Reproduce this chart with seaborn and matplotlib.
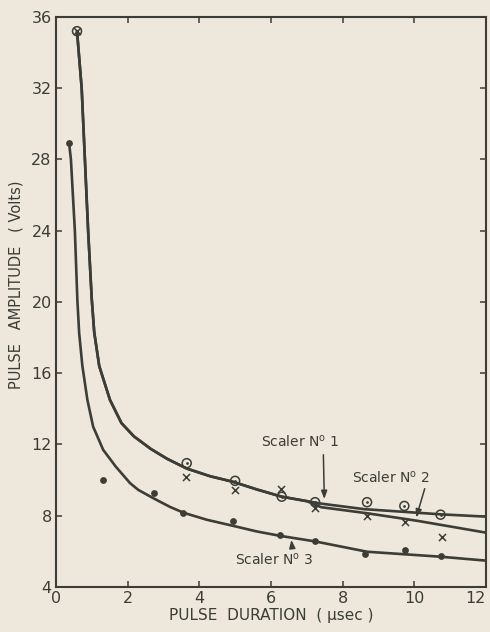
import pandas as pd
import matplotlib.pyplot as plt
import seaborn as sns

# measured points
s1_x = [0.59, 3.65, 5.0, 6.30, 7.23, 8.68, 9.72, 10.73]
s1_y = [35.2, 10.95, 9.96, 9.07, 8.76, 8.76, 8.55, 8.06]
s2_x = [0.59, 3.62, 5.0, 6.28, 7.22, 8.68, 9.75, 10.77]
s2_y = [35.2, 10.16, 9.45, 9.49, 8.42, 7.99, 7.67, 6.83]
s3_x = [0.37, 1.31, 2.74, 3.54, 4.93, 6.26, 7.22, 8.63, 9.75, 10.73]
s3_y = [28.9, 10.0, 9.28, 8.17, 7.71, 6.92, 6.60, 5.85, 6.08, 5.74]

# fitted curves (scaler 1 and 2 share the curve up to ~7 usec)
head_x = [0.59, 0.72, 0.81, 0.90, 1.0, 1.07, 1.21, 1.51, 1.83, 2.18, 2.65, 3.10, 3.65, 4.30,
          4.95, 5.6, 6.30, 7.0]
head_y = [35.2, 32.0, 28.0, 24.0, 20.2, 18.3, 16.4, 14.5, 13.2, 12.45, 11.75, 11.2, 10.65, 10.22,
          9.9, 9.48, 9.07, 8.82]
c1_x = head_x + [7.4, 8.6, 10.73, 12.0]
c1_y = head_y + [8.68, 8.37, 8.08, 7.95]
c2_x = head_x + [7.4, 8.68, 10.07, 12.0]
c2_y = head_y + [8.48, 8.14, 7.72, 7.05]
c3_x = [0.37, 0.42, 0.53, 0.60, 0.65, 0.74, 0.88, 1.04, 1.32, 1.67, 2.07, 2.30, 2.77, 3.18, 3.56,
        4.2, 4.95, 5.6, 6.26, 7.23, 8.68, 10.73, 12.0]
c3_y = [28.9, 28.0, 24.0, 20.1, 18.25, 16.4, 14.5, 13.0, 11.7, 10.76, 9.83, 9.45, 8.93, 8.5, 8.17,
        7.78, 7.43, 7.12, 6.87, 6.56, 5.98, 5.70, 5.48]

x_ticks = [0, 2, 4, 6, 8, 10, 12]
y_ticks = [4, 8, 12, 16, 20, 24, 28, 32, 36]

paper = "#ede8db"
ink = "#3b3d36"

sns.set_theme(style="ticks", rc={"axes.facecolor": paper, "figure.facecolor": paper,
                                 "axes.edgecolor": ink, "xtick.color": ink, "ytick.color": ink,
                                 "text.color": ink, "axes.labelcolor": ink})
plt.rcParams["font.family"] = ["DejaVu Sans"]

fig = plt.figure(figsize=(4.9, 6.32), dpi=100)
ax = fig.add_axes([0.114, 0.0712, 0.878, 0.902])

for cx, cy in [(c1_x, c1_y), (c2_x, c2_y), (c3_x, c3_y)]:
    sns.lineplot(x=cx, y=cy, ax=ax, color=ink, linewidth=1.9, sort=False)

sns.scatterplot(x=s1_x, y=s1_y, ax=ax, marker="o", s=42, facecolor="none",
                edgecolor=ink, linewidth=1.1, zorder=4)
sns.scatterplot(x=s1_x, y=s1_y, ax=ax, marker="o", s=4, color=ink, linewidth=0, zorder=5)
sns.scatterplot(x=s2_x, y=s2_y, ax=ax, marker="x", s=26, color=ink, linewidth=1.1, zorder=5)
sns.scatterplot(x=s3_x, y=s3_y, ax=ax, marker="o", s=24, color=ink, linewidth=0, zorder=5)

ax.set_xlim(0, 12)
ax.set_ylim(4, 36)
ax.set_xticks(x_ticks)
ax.set_yticks(y_ticks)
ax.tick_params(direction="in", top=True, right=True, length=4, width=1.1,
               labelsize=11.5, pad=3)
ax.get_xticklabels()[-1].set_horizontalalignment("right")
for sp in ax.spines.values():
    sp.set_linewidth(1.5)

ax.set_xlabel("PULSE  DURATION  ( \u03bcsec )", fontsize=11, labelpad=1)
ax.set_ylabel("PULSE   AMPLITUDE   ( Volts)", fontsize=10.5, labelpad=5)
ax.yaxis.set_label_coords(-0.075, 0.53)

arrow = dict(arrowstyle="-|>,head_length=0.4,head_width=0.15", color=ink, lw=1.1)
ax.annotate("", xy=(7.49, 8.78), xytext=(7.46, 11.58), arrowprops=arrow)
ax.text(6.82, 12.15, "Scaler N$^{\\mathrm{o}}$ 1", fontsize=10, ha="center", va="center")
ax.annotate("", xy=(10.03, 7.75), xytext=(10.31, 9.67), arrowprops=arrow)
ax.text(9.36, 10.12, "Scaler N$^{\\mathrm{o}}$ 2", fontsize=10, ha="center", va="center")
ax.annotate("", xy=(6.56, 6.8), xytext=(6.59, 6.25), arrowprops=arrow)
ax.text(6.09, 5.52, "Scaler N$^{\\mathrm{o}}$ 3", fontsize=10, ha="center", va="center")

fig.savefig("out.png", dpi=100, facecolor=paper)
